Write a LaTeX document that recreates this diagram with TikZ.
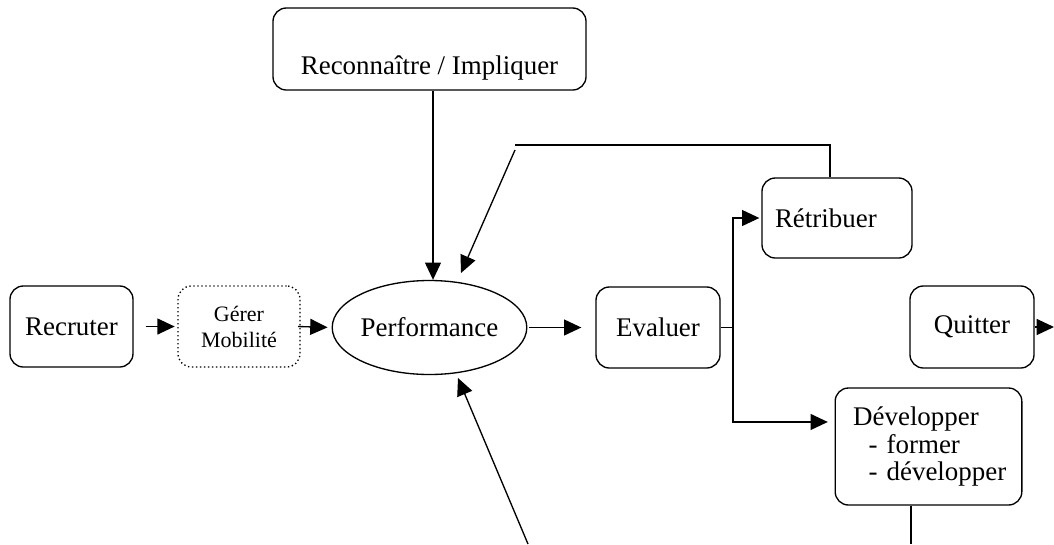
\documentclass[tikz,border=0pt]{standalone}
\usepackage{fontspec}
\setmainfont{Liberation Serif}
\usepackage{tikz}
\usetikzlibrary{arrows.meta}
\usetikzlibrary{shapes.geometric}

\begin{document}
\begin{tikzpicture}[x=0.75pt, y=-0.75pt,
  font=\fontsize{20.2}{24}\selectfont,
  box/.style={draw, line width=1pt, rounded corners=10pt, inner sep=0pt},
  arr/.style={-{Triangle[length=13pt, width=12pt]}, line width=1pt},
  ln/.style={line width=1pt}]
\useasboundingbox (0,0) rectangle (1054,544);

\node[box, minimum width=92.25pt, minimum height=60.75pt] (recruter) at (71.5,326.5) {Recruter};
\node[box, dotted, minimum width=91.5pt, minimum height=60.75pt, align=center,
  font=\fontsize{16.5}{19.5}\selectfont] (gerer) at (239,326.5) {Gérer\\Mobilité};
\node[draw, ellipse, line width=1pt, inner sep=0pt, minimum width=109.5pt, minimum height=70.5pt] (perf) at (429.5,327.5) {Performance};
\node[box, minimum width=93pt, minimum height=60.75pt] (evaluer) at (658,327.5) {Evaluer};
\node[box, minimum height=60pt, text width=93pt, inner xsep=9.75pt, align=left] (retrib) at (837,218) {Rétribuer};
\node[box, minimum width=93pt, minimum height=61.5pt] (quitter) at (972,327) {Quitter};
\node[box, minimum height=87.75pt, text width=120pt, inner xsep=10pt, align=left,
  font=\fontsize{20.2}{20.5}\selectfont] (devel) at (928.5,446.5)
  {\hspace{3.5pt}Développer\\\hspace{0.75em}- former\\\hspace{0.75em}- développer};
\node[box, minimum width=234.75pt, minimum height=61.5pt, text height=40pt, text depth=2.5pt] (reco) at (429.5,49) {Reconnaître / Impliquer};

\coordinate (fork) at (733,327.5);
\coordinate (quitout) at (1054,327);
\coordinate (fbR) at (830,145);
\coordinate (fbL) at (515,145);
\coordinate (fbstart) at (515,150);
\coordinate (fbtip) at (461,273);
\coordinate (botin) at (528,544);
\coordinate (bottip) at (458,378);
\coordinate (devout) at (911,544);

% flux principal
\draw[arr, shorten >=2pt] ([xshift=9pt]recruter.east) -- (gerer.west);
\draw[arr, shorten >=3pt] ([xshift=-2pt]gerer.east) -- (perf.west);
\draw[arr, shorten >=10.5pt] ([xshift=1.5pt]perf.east) -- (evaluer.west);
\draw[ln] (evaluer.east) -- (fork);
\draw[arr, shorten >=1.5pt] (fork) |- (retrib.west);
\draw[arr, shorten >=5pt] (fork) |- ([yshift=18.4pt]devel.west);
\draw[arr] (quitter.east) -- (quitout);
\draw[arr] (reco.south -| 433,0) -- (perf.north -| 433,0);

% retours
\draw[ln] (retrib.north -| fbR) -- (fbR) -- (fbL);
\draw[arr] (fbstart) -- (fbtip);
\draw[arr] (botin) -- (bottip);
\draw[ln] (devel.south -| devout) -- (devout);
\end{tikzpicture}
\end{document}
